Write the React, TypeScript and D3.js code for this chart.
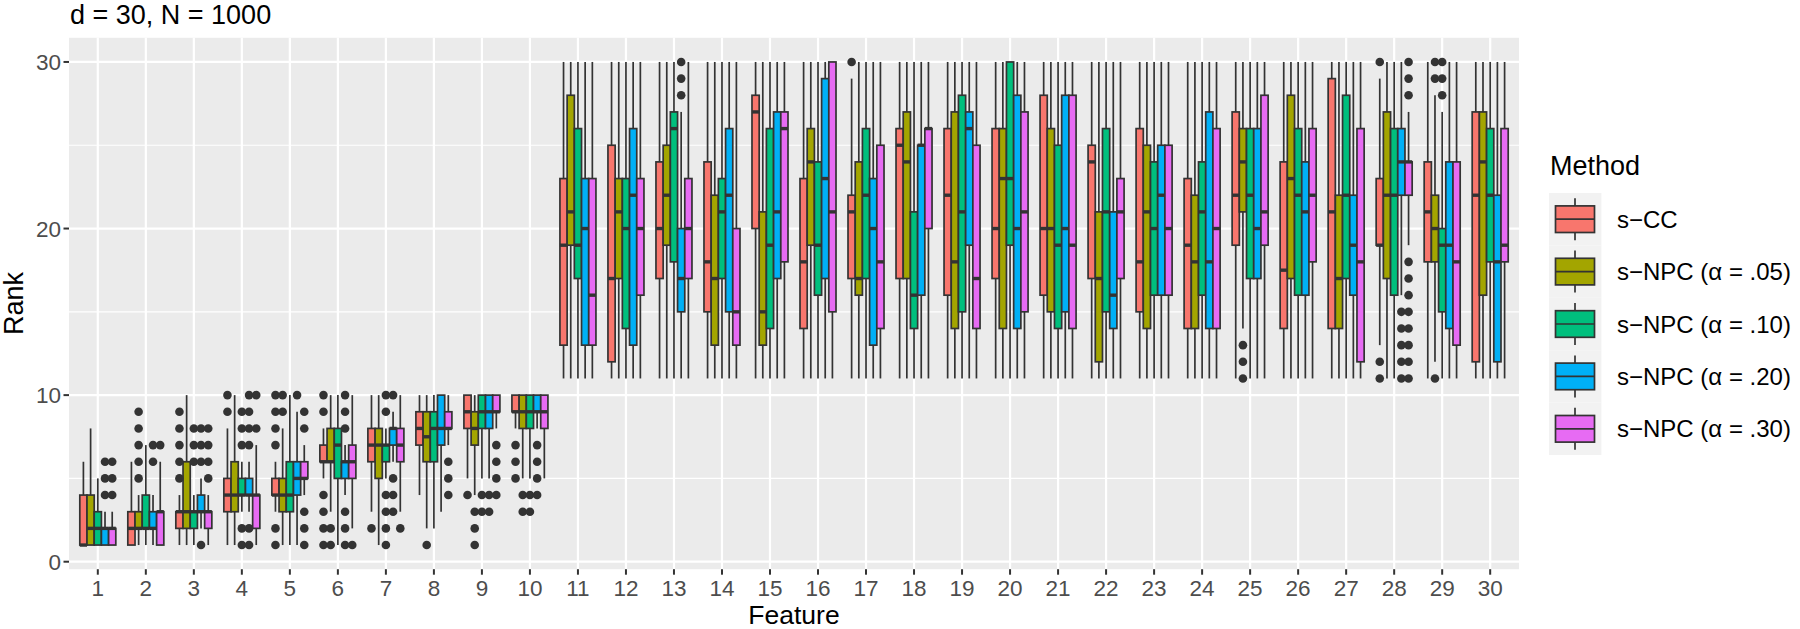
import React from 'react';
import * as d3 from 'd3';

// ranks of each feature, one row per feature: [lower whisker, q1, median, q3, upper whisker]
const features = [1, 2, 3, 4, 5, 6, 7, 8, 9, 10, 11, 12, 13, 14, 15, 16, 17, 18, 19, 20, 21, 22, 23, 24, 25, 26, 27, 28, 29, 30];
const methods = ['s\u2212CC', 's\u2212NPC (\u03B1 = .05)', 's\u2212NPC (\u03B1 = .10)', 's\u2212NPC (\u03B1 = .20)', 's\u2212NPC (\u03B1 = .30)'];
const methodColors = ['#F8766D', '#A3A500', '#00BF7D', '#00B0F6', '#E76BF3'];
const yTicks = [0, 10, 20, 30];
const yMinor = [5, 15, 25];

const ccStats = [
  [1, 1, 1, 4, 6], [1, 1, 2, 3, 6], [1, 2, 3, 3, 4], [1, 3, 4, 5, 8], [3, 4, 4, 5, 6],
  [5, 6, 6, 7, 8], [3, 6, 7, 8, 10], [4, 7, 8, 9, 10], [5, 8, 9, 10, 10], [8, 9, 9, 10, 10],
  [11, 13, 19, 23, 30], [11, 12, 17, 25, 30], [11, 17, 20, 24, 30], [11, 15, 18, 24, 30], [11, 20, 27, 28, 30],
  [11, 14, 18, 23, 30], [11, 17, 21, 22, 29], [11, 17, 25, 26, 30], [11, 16, 22, 26, 30], [11, 17, 20, 26, 30],
  [11, 16, 20, 28, 30], [11, 17, 24, 25, 30], [11, 15, 18, 26, 30], [11, 14, 19, 23, 30], [11, 19, 22, 27, 30],
  [11, 14, 17.5, 24, 30], [11, 14, 21, 29, 30], [13, 19, 19, 23, 29], [11, 18, 21, 24, 30], [11, 12, 22, 27, 30],
];
const npc05Stats = [
  [1, 1, 2, 4, 8], [1, 2, 2, 3, 4], [1, 2, 3, 6, 10], [1, 3, 4, 6, 10], [1, 3, 4, 5, 8],
  [3, 6, 6, 8, 10], [1, 5, 7, 8, 10], [2, 6, 7.5, 9, 10], [4, 7, 8, 9, 10], [5, 8, 9, 10, 10],
  [11, 19, 21, 28, 30], [11, 17, 21, 23, 30], [11, 19, 22, 25, 30], [11, 13, 17, 22, 30], [11, 13, 15, 21, 30],
  [11, 19, 24, 26, 30], [11, 16, 17, 24, 30], [11, 17, 24, 27, 30], [11, 14, 18, 27, 30], [11, 14, 23, 26, 30],
  [11, 15, 20, 26, 30], [11, 12, 17, 21, 30], [11, 14, 21, 25, 30], [11, 14, 18, 22, 30], [14, 21, 24, 26, 30],
  [11, 17, 23, 28, 30], [11, 14, 17, 22, 30], [11, 17, 22, 27, 30], [12, 18, 20, 22, 28], [11, 16, 24, 27, 30],
];
const npc10Stats = [
  [1, 1, 2, 3, 5], [1, 2, 2, 4, 7], [1, 2, 3, 3, 4], [3, 4, 4, 5, 6], [1, 3, 4, 6, 10],
  [1, 5, 7, 8, 10], [5, 6, 7, 7, 8], [2, 6, 8, 9, 10], [5, 8, 9, 10, 10], [5, 8, 9, 10, 10],
  [11, 17, 19, 26, 30], [11, 14, 20, 23, 30], [11, 18, 26, 27, 30], [11, 17, 21, 23, 30], [11, 14, 19, 26, 30],
  [11, 16, 19, 24, 30], [11, 17, 22, 26, 30], [11, 14, 16, 21, 30], [11, 15, 21, 28, 30], [11, 19, 23, 30, 30],
  [11, 14, 19, 25, 30], [11, 15, 21, 26, 30], [11, 16, 20, 24, 30], [11, 16, 21, 24, 30], [11, 17, 22, 26, 30],
  [11, 16, 22, 26, 30], [11, 17, 22, 28, 30], [11, 16, 22, 26, 30], [11, 15, 19, 20, 27], [11, 18, 22, 26, 30],
];
const npc20Stats = [
  [1, 1, 2, 2, 3], [1, 2, 2, 3, 4], [2, 3, 3, 4, 5], [3, 4, 4, 5, 6], [1, 4, 5, 6, 9],
  [4, 5, 6, 6, 7], [6, 7, 8, 8, 9], [3, 7, 8, 10, 10], [5, 8, 9, 10, 10], [8, 9, 9, 10, 10],
  [11, 13, 20, 23, 30], [11, 13, 22, 26, 30], [11, 15, 17, 20, 27], [11, 15, 22, 26, 30], [11, 17, 21, 27, 30],
  [11, 17, 23, 29, 30], [11, 13, 20, 23, 30], [11, 16, 25, 25, 30], [11, 19, 26, 27, 30], [11, 14, 20, 28, 30],
  [11, 15, 20, 28, 30], [11, 14, 16, 21, 30], [11, 16, 22, 25, 30], [11, 14, 18, 27, 30], [11, 17, 20, 26, 30],
  [11, 16, 21, 24, 30], [11, 16, 19, 22, 30], [16, 22, 24, 26, 30], [11, 14, 19, 24, 30], [11, 12, 18, 22, 30],
];
const npc30Stats = [
  [1, 1, 2, 2, 3], [1, 1, 3, 3, 6], [1, 2, 3, 3, 4], [1, 2, 4, 4, 7], [4, 5, 5, 6, 7],
  [2, 5, 6, 7, 10], [3, 6, 7, 8, 10], [7, 8, 8, 9, 10], [8, 9, 9, 10, 10], [5, 8, 9, 10, 10],
  [11, 13, 16, 23, 30], [11, 16, 20, 23, 30], [11, 17, 20, 23, 30], [11, 13, 15, 20, 30], [11, 18, 26, 27, 30],
  [11, 15, 21, 30, 30], [11, 14, 18, 25, 30], [11, 20, 26, 26, 30], [11, 14, 17, 25, 30], [11, 15, 21, 27, 30],
  [11, 14, 19, 28, 30], [11, 17, 21, 23, 30], [11, 16, 20, 25, 30], [11, 14, 20, 26, 30], [11, 19, 21, 28, 30],
  [11, 18, 22, 26, 30], [11, 12, 18, 26, 30], [19, 22, 24, 24, 27], [11, 13, 18, 24, 30], [11, 18, 19, 26, 30],
];

// outliers: [feature, values]
const ccOut = [[3, [5, 6, 7, 8, 9]], [4, [9, 10]], [5, [1, 2, 7, 8, 9, 10]], [6, [1, 2, 3, 4, 9, 10]], [7, [2]], [9, [4]], [10, [5, 6, 7]], [17, [30]], [28, [11, 12, 30]]];
const npc05Out = [[2, [5, 6, 7, 8, 9]], [5, [9, 10]], [6, [1, 2]], [8, [1]], [9, [1, 2, 3]], [10, [3, 4]], [25, [11, 12, 13]], [29, [11, 29, 30]]];
const npc10Out = [[3, [6, 7, 8]], [4, [1, 2, 7, 8, 9]], [7, [1, 2, 3, 4, 9, 10]], [9, [3, 4]], [10, [3, 4]], [29, [28, 29, 30]]];
const npc20Out = [[1, [4, 5, 6]], [2, [6, 7]], [3, [1, 6, 7, 8]], [4, [1, 2, 7, 8, 9, 10]], [5, [10]], [6, [1, 2, 3, 8, 9, 10]], [7, [3, 4, 5, 10]], [9, [3, 4]], [10, [4, 5, 6, 7]], [13, [28, 29, 30]], [28, [11, 12, 13, 14, 15]]];
const npc30Out = [[1, [4, 5, 6]], [2, [7]], [3, [5, 6, 7, 8]], [4, [8, 10]], [5, [1, 2, 3, 8, 9]], [6, [1]], [7, [2]], [8, [4, 5, 6]], [9, [4, 5, 6, 7]], [28, [11, 12, 13, 14, 15, 16, 17, 18, 28, 29, 30]]];

const allStats = [ccStats, npc05Stats, npc10Stats, npc20Stats, npc30Stats];
const allOut = [ccOut, npc05Out, npc10Out, npc20Out, npc30Out];

const W = 1800;
const H = 629;
const panel = { left: 69, right: 1519, top: 37.8, bottom: 569.2 };
const ink = '#333333';
const font = '"Liberation Sans", Arial, sans-serif';

const App = () => {
  const x = d3.scaleLinear().domain([0.4, 30.6]).range([panel.left, panel.right]);
  const y = d3.scaleLinear().domain([-0.45, 31.45]).range([panel.bottom, panel.top]);
  const dodge = d3.scaleBand().domain(methods).range([-0.375, 0.375]);

  const boxes = [];
  const points = [];
  features.forEach((f, fi) => {
    methods.forEach((m, mi) => {
      const [lo, q1, med, q3, hi] = allStats[mi][fi];
      const x0 = x(f + dodge(m));
      const x1 = x(f + dodge(m) + dodge.bandwidth());
      const cx = (x0 + x1) / 2;
      boxes.push(
        <g key={`b${f}-${mi}`}>
          <line x1={cx} x2={cx} y1={y(hi)} y2={y(q3)} stroke={ink} strokeWidth={1.7} />
          <line x1={cx} x2={cx} y1={y(q1)} y2={y(lo)} stroke={ink} strokeWidth={1.7} />
          <rect x={x0} y={y(q3)} width={x1 - x0} height={y(q1) - y(q3)} fill={methodColors[mi]} stroke={ink} strokeWidth={1.7} />
          <line x1={x0} x2={x1} y1={y(med)} y2={y(med)} stroke={ink} strokeWidth={3.4} />
        </g>
      );
      const out = allOut[mi].find((o) => o[0] === f);
      if (out) {
        out[1].forEach((v) => {
          points.push(<circle key={`p${f}-${mi}-${v}`} cx={cx} cy={y(v)} r={4.3} fill={ink} />);
        });
      }
    });
  });

  const keyTop = 193;
  const keySize = 52.4;

  return (
    <svg width={W} height={H} style={{ position: 'absolute', left: 0, top: 0, background: '#fff' }} fontFamily={font}>
      <rect x={panel.left} y={panel.top} width={panel.right - panel.left} height={panel.bottom - panel.top} fill="#EBEBEB" />
      {yMinor.map((v) => (
        <line key={`mn${v}`} x1={panel.left} x2={panel.right} y1={y(v)} y2={y(v)} stroke="#fff" strokeWidth={1.1} />
      ))}
      {yTicks.map((v) => (
        <line key={`mj${v}`} x1={panel.left} x2={panel.right} y1={y(v)} y2={y(v)} stroke="#fff" strokeWidth={2.2} />
      ))}
      {features.map((f) => (
        <line key={`vx${f}`} x1={x(f)} x2={x(f)} y1={panel.top} y2={panel.bottom} stroke="#fff" strokeWidth={2.2} />
      ))}

      {boxes}
      {points}

      {/* y axis */}
      {yTicks.map((v) => (
        <g key={`yt${v}`}>
          <line x1={panel.left - 5.5} x2={panel.left} y1={y(v)} y2={y(v)} stroke={ink} strokeWidth={2} />
          <text x={panel.left - 8} y={y(v)} dy="0.36em" textAnchor="end" fontSize={22.5} fill="#4D4D4D">{v}</text>
        </g>
      ))}
      {/* x axis */}
      {features.map((f) => (
        <g key={`xt${f}`}>
          <line x1={x(f)} x2={x(f)} y1={panel.bottom} y2={panel.bottom + 5.5} stroke={ink} strokeWidth={2} />
          <text x={x(f)} y={596} textAnchor="middle" fontSize={22.5} fill="#4D4D4D">{f}</text>
        </g>
      ))}

      <text x={(panel.left + panel.right) / 2} y={624} textAnchor="middle" fontSize={26.5} fill="#000">Feature</text>
      <text transform={`translate(23, ${(panel.top + panel.bottom) / 2}) rotate(-90)`} textAnchor="middle" fontSize={27} fill="#000">Rank</text>
      <text x={70} y={24} fontSize={27} fill="#000">d = 30, N = 1000</text>

      {/* legend */}
      <text x={1550} y={175} fontSize={27} fill="#000">Method</text>
      {methods.map((m, i) => {
        const ky = keyTop + i * keySize;
        const cy = ky + keySize / 2;
        return (
          <g key={`lg${i}`}>
            <rect x={1549} y={ky} width={keySize} height={keySize} fill="#F2F2F2" />
            <line x1={1575} x2={1575} y1={cy - 21} y2={cy + 21} stroke={ink} strokeWidth={1.7} />
            <rect x={1555.5} y={cy - 13.3} width={39} height={26.6} fill={methodColors[i]} stroke={ink} strokeWidth={1.7} />
            <line x1={1555.5} x2={1594.5} y1={cy} y2={cy} stroke={ink} strokeWidth={1.7} />
            <text x={1617} y={cy} dy="0.36em" fontSize={24} fill="#000">{m}</text>
          </g>
        );
      })}
    </svg>
  );
};

export default App;
